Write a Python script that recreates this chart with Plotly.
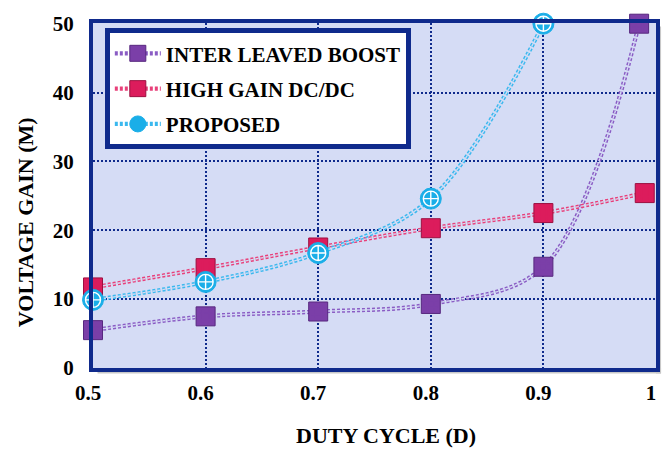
import plotly.graph_objects as go

# Duty cycle vs. voltage gain for three converter topologies
duty_interleaved = [0.5, 0.6, 0.7, 0.8, 0.9, 0.985]
gain_interleaved = [5.5, 7.5, 8.2, 9.3, 14.7, 50]

duty_high_gain = [0.5, 0.6, 0.7, 0.8, 0.9, 0.99]
gain_high_gain = [11.7, 14.5, 17.5, 20.3, 22.5, 25.4]

duty_proposed = [0.5, 0.6, 0.7, 0.8, 0.9]
gain_proposed = [9.9, 12.5, 16.7, 24.6, 50]

x_ticks = [0.5, 0.6, 0.7, 0.8, 0.9, 1.0]
x_tick_text = ["0.5", "0.6", "0.7", "0.8", "0.9", "1"]
y_ticks = [0, 10, 20, 30, 40, 50]

PLOT_BG = "#d5dcf5"
NAVY = "#0f2a8c"
SERIF = "Liberation Serif"

series = [
    dict(name="INTER LEAVED BOOST", x=duty_interleaved, y=gain_interleaved,
         line="#8a5cc4", fill="#7b3fa8", edge="#57287f",
         base_symbol="square", base_size=19,
         top_symbol="hash-open", top_size=13, top_color="#efe4fa"),
    dict(name="HIGH GAIN DC/DC", x=duty_high_gain, y=gain_high_gain,
         line="#e8407a", fill="#dc1c5c", edge="#9c1040",
         base_symbol="square", base_size=19,
         top_symbol="hash-open", top_size=13, top_color="#f7a0c0"),
    dict(name="PROPOSED", x=duty_proposed, y=gain_proposed,
         line="#3ab8ee", fill="#1aaee8", edge="#1aaee8",
         base_symbol="circle", base_size=21,
         top_symbol="circle-cross", top_size=15, top_color="#ffffff"),
]

fig = go.Figure()

for s in series:
    # coloured dashed curve (also the legend entry)
    fig.add_trace(go.Scatter(
        x=s["x"], y=s["y"], name=s["name"], mode="lines+markers",
        legendgroup=s["name"],
        line=dict(color=s["line"], width=4.2, dash="3px,2px", shape="spline"),
        marker=dict(symbol=s["base_symbol"], size=16, color=s["fill"],
                    line=dict(color=s["edge"], width=1)),
        cliponaxis=False,
    ))
    # thin background stroke splitting the dash into a double line
    fig.add_trace(go.Scatter(
        x=s["x"], y=s["y"], mode="lines", showlegend=False, hoverinfo="skip",
        legendgroup=s["name"],
        line=dict(color=PLOT_BG, width=1.3, dash="3px,2px", shape="spline"),
        cliponaxis=False,
    ))
    # marker body
    fig.add_trace(go.Scatter(
        x=s["x"], y=s["y"], mode="markers", showlegend=False, hoverinfo="skip",
        legendgroup=s["name"],
        marker=dict(symbol=s["base_symbol"], size=s["base_size"], color=s["fill"],
                    line=dict(color=s["edge"], width=1)),
        cliponaxis=False,
    ))
    # marker texture
    fig.add_trace(go.Scatter(
        x=s["x"], y=s["y"], mode="markers", showlegend=False, hoverinfo="skip",
        legendgroup=s["name"],
        marker=dict(symbol=s["top_symbol"], size=s["top_size"], color=s["fill"],
                    line=dict(color=s["top_color"], width=1.4)),
        cliponaxis=False,
    ))

tick_font = dict(family=SERIF, size=21, color="#000000", weight="bold")
title_font = dict(family=SERIF, size=22, color="#000000", weight="bold")

fig.update_xaxes(
    range=[0.5, 1.0], tickvals=x_ticks, ticktext=x_tick_text,
    tickfont=tick_font, ticks="", ticklabelstandoff=3, ticklabelshift=-5,
    showgrid=True, gridcolor=NAVY, gridwidth=2, griddash="2px,2px",
    showline=True, linecolor=NAVY, linewidth=4, mirror=True, zeroline=False,
)
fig.update_yaxes(
    range=[0, 50.1], tickvals=y_ticks,
    tickfont=tick_font, ticks="", ticklabelstandoff=11,
    showgrid=True, gridcolor=NAVY, gridwidth=2, griddash="2px,2px",
    showline=True, linecolor=NAVY, linewidth=4, mirror=True, zeroline=False,
)

fig.update_layout(
    width=672, height=452,
    margin=dict(l=93, r=15, t=14, b=84),
    paper_bgcolor="#ffffff", plot_bgcolor=PLOT_BG,
    showlegend=True,
    legend=dict(
        x=0.021, y=0.985, xanchor="left", yanchor="top",
        bgcolor="#ffffff", bordercolor=NAVY, borderwidth=5,
        font=dict(family=SERIF, size=21, color="#000000", weight="bold"),
        itemwidth=46, tracegroupgap=5,
    ),
    annotations=[
        dict(text="VOLTAGE GAIN (M)", xref="paper", yref="paper",
             x=-0.12, y=0.424, xanchor="center", yanchor="middle",
             textangle=-90, showarrow=False, font=title_font),
        dict(text="DUTY CYCLE (D)", xref="paper", yref="paper",
             x=0.52, y=-0.195, xanchor="center", yanchor="middle",
             showarrow=False, font=title_font),
    ],
    shapes=[
        # soft drop shadow along the right and bottom of the frame
        dict(type="rect", xref="paper", yref="paper", layer="below",
             x0=1.0, x1=1.009, y0=-0.016, y1=0.99,
             line=dict(width=0), fillcolor="#c8c8c8"),
        dict(type="rect", xref="paper", yref="paper", layer="below",
             x0=0.008, x1=1.009, y0=-0.016, y1=0.0,
             line=dict(width=0), fillcolor="#c8c8c8"),
    ],
)

fig.write_html("out.html")
